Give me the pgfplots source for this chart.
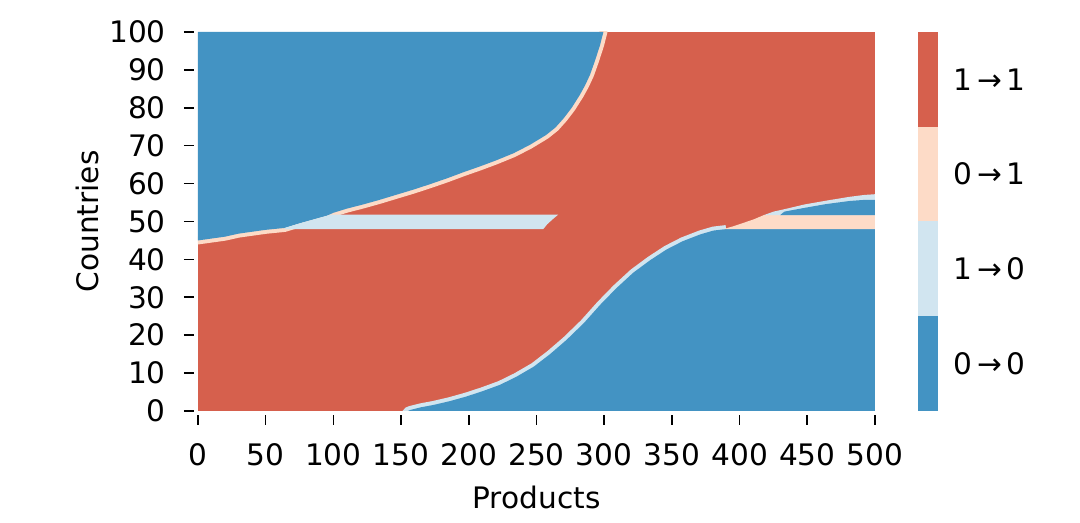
\documentclass[border=0pt]{standalone}
\usepackage{fontspec}
\setmainfont{DejaVu Sans}
\usepackage{pgfplots}
\pgfplotsset{compat=1.18}

% RdBu colours
\definecolor{c00}{HTML}{4393C3}
\definecolor{c10}{HTML}{D1E5F0}
\definecolor{c01}{HTML}{FDDBC7}
\definecolor{c11}{HTML}{D6604D}

\begin{document}
\fontsize{14.8}{17.8}\selectfont
\begin{tikzpicture}
\path[use as bounding box] (-99pt,-56pt) rectangle (441pt,205.5pt);

\begin{axis}[
    at={(0pt,0pt)}, anchor=south west,
    width=338.5pt, height=189.5pt, scale only axis,
    xmin=0, xmax=500, ymin=0, ymax=100,
    xtick={0,50,...,500}, ytick={0,10,...,100},
    xtick pos=bottom, ytick pos=left,
    axis line style={draw=none},
    tick align=outside,
    major tick length=5pt,
    tick style={black, line width=0.8pt},
    xtick style={yshift=-2pt}, ytick style={xshift=-2pt},
    xticklabel style={yshift=-6pt},
    yticklabel style={xshift=-6pt},
    xlabel={Products}, ylabel={Countries},
    xlabel style={at={(axis description cs:0.5,-0.227)}, anchor=center},
    ylabel style={at={(axis description cs:-0.163,0.5)}, anchor=center},
    /pgf/number format/assume math mode=true,
]
% background: 1 -> 1
\addplot[fill=c11, draw=none] coordinates {(0,0) (500,0) (500,100) (0,100)};

% upper-left boundary, 0 -> 1 edge
\addplot[draw=c01, line width=4pt] coordinates {
    (-5,44.8) (0,45) (10,45.5) (20,46) (30,46.8) (40,47.3) (50,47.8) (64,48.3)
    (75,49.5) (85,50.5) (95,51.5) (100,52.3) (110,53.4) (122,54.5) (134,55.7)
    (146,57) (159,58.4) (171,59.8) (184,61.4) (196,63) (208,64.5) (220,66.1)
    (233,68) (245,70.2) (257,72.8) (264,74.8) (270,77.2) (276,80) (282,83.4)
    (286,86) (289.5,88.7) (293,92.2) (297,96.6) (299.4,100) (300,103)};
% upper-left region, 0 -> 0
\addplot[fill=c00, draw=none] coordinates {
    (0,100) (0,45) (10,45.5) (20,46) (30,46.8) (40,47.3) (50,47.8) (64,48.3)
    (75,49.5) (85,50.5) (95,51.5) (100,52.3) (110,53.4) (122,54.5) (134,55.7)
    (146,57) (159,58.4) (171,59.8) (184,61.4) (196,63) (208,64.5) (220,66.1)
    (233,68) (245,70.2) (257,72.8) (264,74.8) (270,77.2) (276,80) (282,83.4)
    (286,86) (289.5,88.7) (293,92.2) (297,96.6) (299.4,100)};
% left strip, 1 -> 0
\addplot[fill=c10, draw=none] coordinates {
    (64,48) (64,48.3) (75,49.5) (85,50.5) (95,51.5) (98,51.8)
    (266,51.8) (262,50.6) (258,49.3) (255,48)};

% lower-right boundary, 1 -> 0 edge
\addplot[draw=c10, line width=4pt] coordinates {
    (150,-2) (155,0) (157,0.3) (165,1) (174,1.6) (186,2.6) (198,3.8) (210,5.2)
    (223,6.9) (235,9) (248,11.7) (260,15) (272,18.7) (285,23.2) (297,28)
    (309,32.4) (321.5,36.5) (334,39.8) (346,42.6) (358,44.8) (371,46.6)
    (380.6,47.6) (390,48)};
% lower-right region, 0 -> 0
\addplot[fill=c00, draw=none] coordinates {
    (155,0) (157,0.3) (165,1) (174,1.6) (186,2.6) (198,3.8) (210,5.2)
    (223,6.9) (235,9) (248,11.7) (260,15) (272,18.7) (285,23.2) (297,28)
    (309,32.4) (321.5,36.5) (334,39.8) (346,42.6) (358,44.8) (371,46.6)
    (380.6,47.6) (390,48) (500,48) (500,0)};
% right strip, 0 -> 1
\addplot[fill=c01, draw=none] coordinates {
    (388,48) (395,48.7) (400,49.3) (410,50.5) (418,51.7) (500,51.7) (500,48)};
% right thin band, 1 -> 0
\addplot[fill=c10, draw=none] coordinates {
    (418,51.7) (425,52.6) (435,53.4) (448,54.5) (464,55.5) (481,56.5)
    (492,57) (500,57.2) (500,51.7)};
% right small region, 0 -> 0
\addplot[fill=c00, draw=none] coordinates {
    (430,51.7) (433,52.6) (448,53.6) (464,54.6) (481,55.4) (492,55.7)
    (500,55.7) (500,51.7)};
\end{axis}

% colour bar
\begin{axis}[
    at={(360pt,0pt)}, anchor=south west,
    width=10pt, height=189.5pt, scale only axis,
    xmin=0, xmax=1, ymin=0, ymax=4,
    xtick=\empty,
    ytick={0.5,1.5,2.5,3.5},
    yticklabels={0\,→\,0, 1\,→\,0, 0\,→\,1, 1\,→\,1},
    yticklabel pos=right,
    major tick length=0pt,
    axis line style={draw=none},
    yticklabel style={anchor=west, xshift=2.5pt},
]
\addplot[fill=c00, draw=none] coordinates {(0,0) (1,0) (1,1) (0,1)};
\addplot[fill=c10, draw=none] coordinates {(0,1) (1,1) (1,2) (0,2)};
\addplot[fill=c01, draw=none] coordinates {(0,2) (1,2) (1,3) (0,3)};
\addplot[fill=c11, draw=none] coordinates {(0,3) (1,3) (1,4) (0,4)};
\end{axis}
\end{tikzpicture}
\end{document}
